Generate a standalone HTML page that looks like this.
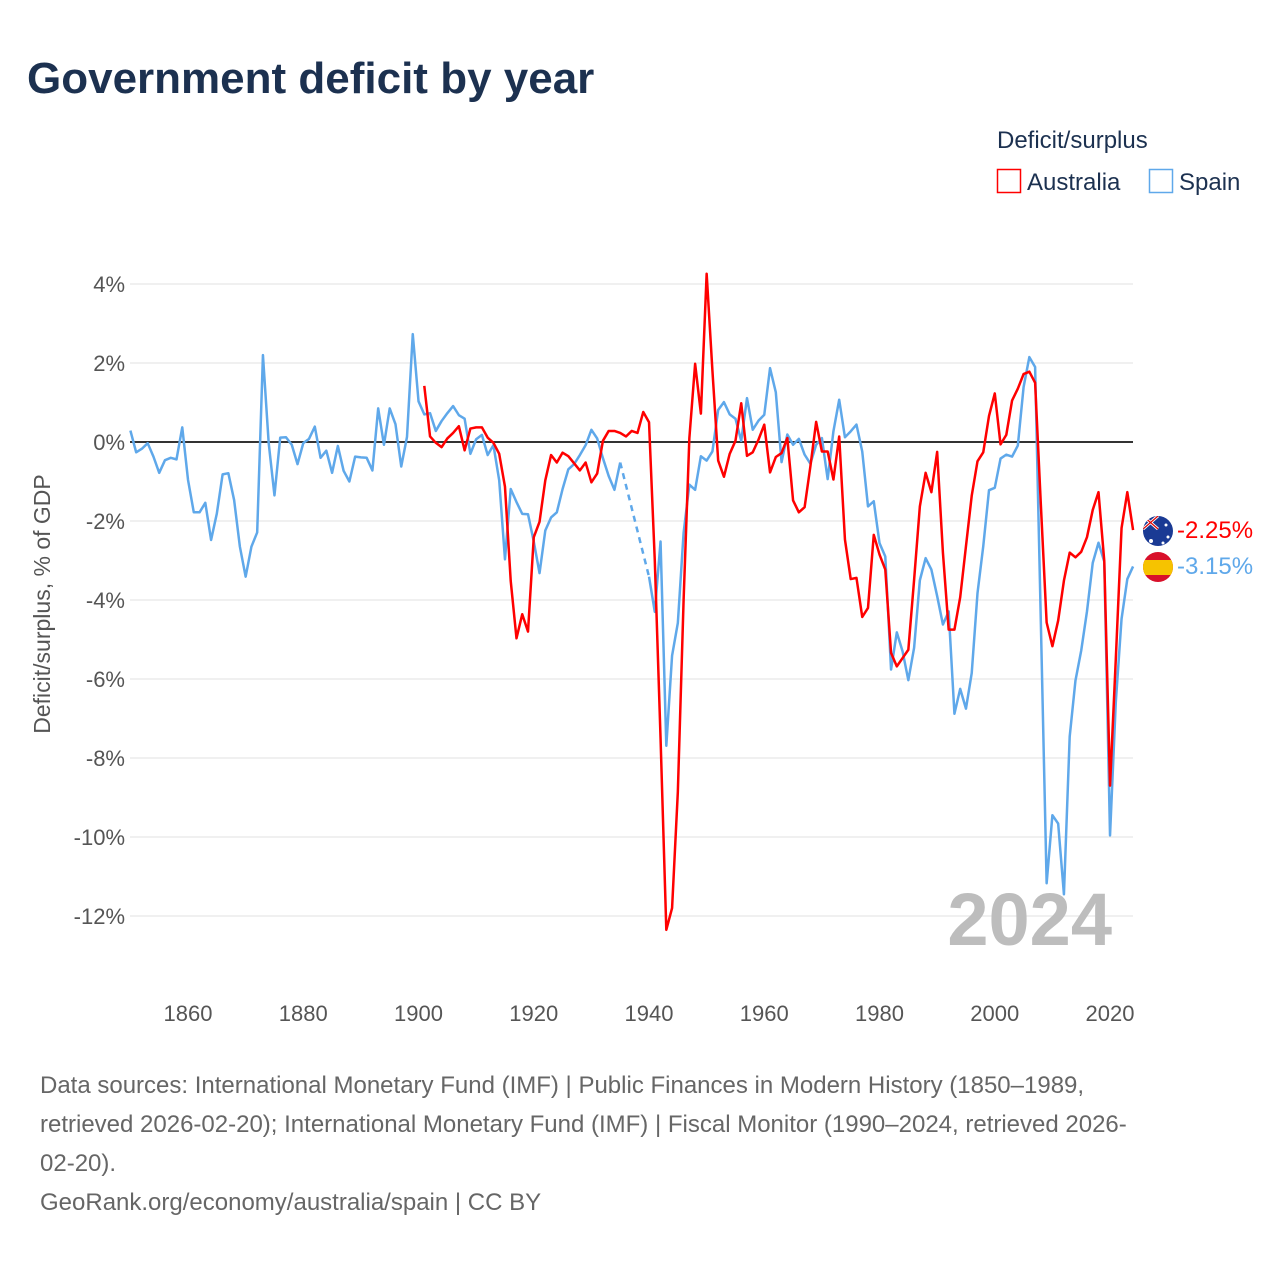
<!DOCTYPE html>
<html><head><meta charset="utf-8">
<style>
body{margin:0;background:#fff;width:1280px;height:1280px;overflow:hidden;font-family:"Liberation Sans",sans-serif;}
</style></head>
<body>
<svg id="chart" width="1280" height="1280" viewBox="0 0 1280 1280" xmlns="http://www.w3.org/2000/svg" font-family="Liberation Sans, sans-serif">
<text x="27" y="93" font-size="44" font-weight="bold" fill="#1c3150">Government deficit by year</text>
<text x="997" y="148" font-size="24" fill="#1c3150">Deficit/surplus</text>
<g><rect x="997.5" y="169.5" width="23" height="23" fill="#fff" stroke="#f00" stroke-width="1.5"/><text x="1027" y="190" font-size="24" fill="#1c3150">Australia</text></g>
<g><rect x="1149.5" y="169.5" width="23" height="23" fill="#fff" stroke="#5fa8ea" stroke-width="1.5"/><text x="1179" y="190" font-size="24" fill="#1c3150">Spain</text></g>
<text transform="translate(50,604) rotate(-90)" text-anchor="middle" font-size="23" fill="#555">Deficit/surplus, % of GDP</text>
<g id="grid"></g>
<text x="1112" y="945" text-anchor="end" font-size="74" font-weight="bold" fill="#bdbdbd">2024</text>
<g id="series"></g>
<g>
<defs><clipPath id="cau"><circle cx="1158" cy="531" r="15"/></clipPath></defs>
<g clip-path="url(#cau)">
<rect x="1140" y="513" width="36" height="36" fill="#1a3a94"/>
<rect x="1143" y="516" width="15" height="13" fill="#1a3a94"/>
<line x1="1143" y1="516" x2="1158" y2="529" stroke="#fff" stroke-width="3"/>
<line x1="1158" y1="516" x2="1143" y2="529" stroke="#fff" stroke-width="3"/>
<line x1="1143" y1="516" x2="1158" y2="529" stroke="#d00" stroke-width="1.2"/>
<line x1="1158" y1="516" x2="1143" y2="529" stroke="#d00" stroke-width="1.2"/>
<circle cx="1151" cy="541" r="2" fill="#fff"/><circle cx="1166" cy="525" r="1.5" fill="#fff"/><circle cx="1168" cy="537" r="1.5" fill="#fff"/><circle cx="1163" cy="543" r="1.5" fill="#fff"/>
</g>
<text x="1177" y="538" font-size="24" fill="#f00">-2.25%</text></g>
<g>
<defs><clipPath id="ces"><circle cx="1158" cy="567" r="15"/></clipPath></defs>
<g clip-path="url(#ces)"><rect x="1140" y="550" width="36" height="36" fill="#d8102a"/><rect x="1140" y="560" width="36" height="15" fill="#f6c300"/></g>
<text x="1177" y="574" font-size="24" fill="#5fa8ea">-3.15%</text></g>
<g font-size="24" fill="#666">
<text x="40" y="1093">Data sources: International Monetary Fund (IMF) | Public Finances in Modern History (1850–1989,</text>
<text x="40" y="1132">retrieved 2026-02-20); International Monetary Fund (IMF) | Fiscal Monitor (1990–2024, retrieved 2026-</text>
<text x="40" y="1171">02-20).</text>
<text x="40" y="1210">GeoRank.org/economy/australia/spain | CC BY</text>
</g>
</svg>
<script>
const spainStart = 1850;
const spainValues = [0.29,-0.26,-0.17,-0.03,-0.37,-0.78,-0.46,-0.4,-0.44,0.37,-0.96,-1.78,-1.78,-1.54,-2.48,-1.81,-0.82,-0.79,-1.47,-2.65,-3.41,-2.65,-2.29,2.2,-0.03,-1.35,0.11,0.12,-0.07,-0.56,-0.03,0.08,0.39,-0.4,-0.22,-0.78,-0.1,-0.73,-1.0,-0.37,-0.39,-0.4,-0.72,0.85,-0.07,0.85,0.45,-0.62,0.13,2.73,
1.03,0.7,0.73,0.28,0.53,0.73,0.91,0.68,0.59,-0.3,0.07,0.18,-0.33,-0.08,-0.97,-2.97,-1.19,-1.52,-1.82,-1.83,-2.52,-3.32,-2.24,-1.91,-1.78,-1.19,-0.69,-0.56,-0.33,-0.08,0.31,0.09,-0.41,-0.86,-1.21,-0.52,null,null,null,null,-3.41,-4.3,-2.52,-7.69,-5.41,-4.58,-2.3,-1.08,-1.21,-0.36,
-0.47,-0.24,0.81,1.01,0.7,0.59,0.03,1.11,0.31,0.54,0.69,1.87,1.26,-0.51,0.19,-0.07,0.08,-0.32,-0.55,-0.07,0.1,-0.94,0.27,1.07,0.12,0.27,0.44,-0.24,-1.63,-1.5,-2.56,-2.9,-5.76,-4.82,-5.3,-6.03,-5.21,-3.5,-2.94,-3.23,-3.9,-4.62,-4.29,-6.88,-6.25,-6.75,-5.85,-3.83,-2.64,-1.22,
-1.16,-0.42,-0.32,-0.37,-0.09,1.39,2.15,1.9,-4.6,-11.17,-9.45,-9.66,-11.45,-7.46,-6.04,-5.28,-4.29,-3.06,-2.55,-3.03,-9.96,-6.59,-4.48,-3.47,-3.15];
const ausStart = 1901;
const ausValues = [1.42,0.14,-0.02,-0.13,0.09,0.23,0.4,-0.21,0.34,0.37,0.37,0.11,-0.02,-0.3,-1.13,-3.52,-4.97,-4.36,-4.8,-2.41,-2.02,-0.97,-0.33,-0.52,-0.27,-0.36,-0.54,-0.72,-0.52,-1.02,-0.8,0.03,0.28,0.28,0.23,0.14,0.28,0.23,0.76,0.5,-3.0,-7.5,-12.35,-11.8,-8.86,-4.0,0.1,1.98,0.72,4.26,
1.81,-0.47,-0.88,-0.3,0.03,0.98,-0.35,-0.26,0.06,0.44,-0.77,-0.38,-0.28,0.1,-1.48,-1.78,-1.65,-0.62,0.51,-0.24,-0.24,-0.95,0.14,-2.47,-3.47,-3.44,-4.43,-4.2,-2.35,-2.85,-3.23,-5.34,-5.68,-5.47,-5.26,-3.49,-1.63,-0.78,-1.27,-0.25,-2.8,-4.75,-4.75,-3.93,-2.64,-1.36,-0.49,-0.26,0.66,1.23,
-0.06,0.18,1.05,1.35,1.72,1.78,1.5,-1.6,-4.57,-5.17,-4.52,-3.51,-2.8,-2.92,-2.78,-2.41,-1.72,-1.27,-3.01,-8.7,-5.5,-2.18,-1.27,-2.23];
const yTicks = [4,2,0,-2,-4,-6,-8,-10,-12];
const xTicks = [1860,1880,1900,1920,1940,1960,1980,2000,2020];

const NS = "http://www.w3.org/2000/svg";
const X0 = 130.4, XS = 5.7625, Y0 = 442, YS = 39.5;
function xs(yr){return X0 + (yr-1850)*XS;}
function ys(v){return Y0 - v*YS;}
function mk(tag, attrs, parent){const e=document.createElementNS(NS,tag);for(const k in attrs)e.setAttribute(k,attrs[k]);parent.appendChild(e);return e;}
const grid = document.getElementById('grid');
yTicks.forEach(t=>{
  const l = mk('line',{x1:130,x2:1133,y1:ys(t),y2:ys(t),stroke:t===0?'#333':'#e6e6e6','stroke-width':t===0?2:1.2},grid);
  
  
  const tx = mk('text',{x:125,y:ys(t)+8,'text-anchor':'end','font-size':22,fill:'#555'},grid);
  tx.textContent = t+'%';
  
  
});
xTicks.forEach(t=>{
  const tx = mk('text',{x:xs(t),y:1021,'text-anchor':'middle','font-size':22,fill:'#555'},grid);
  tx.textContent = t;
  
  
});
const series = document.getElementById('series');
function draw(start, vals, color, name){
  let segs=[], cur=[];
  vals.forEach((v,i)=>{ if(v===null){ if(cur.length)segs.push(cur); cur=[]; } else cur.push([xs(start+i),ys(v)]); });
  if(cur.length)segs.push(cur);
  segs.forEach((s,k)=>{
    const p = mk('polyline',{points:s.map(q=>q.join(',')).join(' '),fill:'none',stroke:color,'stroke-width':2.5,'stroke-linejoin':'round'},series);
    
    
    if(k<segs.length-1){
      const a=s[s.length-1], b=segs[k+1][0];
      const d = mk('line',{x1:a[0],y1:a[1],x2:b[0],y2:b[1],stroke:color,'stroke-width':2.5,'stroke-dasharray':'6,5'},series);
      
      
    }
  });
}
draw(spainStart, spainValues, '#5fa8ea', 'spain');
draw(ausStart, ausValues, '#f00', 'australia');
</script>
</body></html>
